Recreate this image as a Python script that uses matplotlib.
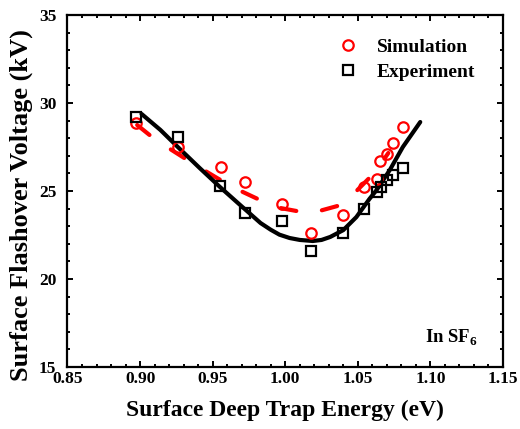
import matplotlib.pyplot as plt

# simulation points (red circles)
sim_x = [0.897, 0.926, 0.956, 0.972, 0.998, 1.018, 1.040, 1.054, 1.063, 1.065, 1.070, 1.074, 1.081]
sim_y = [28.85, 27.5, 26.36, 25.5, 24.26, 22.6, 23.64, 25.2, 25.7, 26.7, 27.1, 27.7, 28.65]

# experiment points (black squares)
exp_x = [0.897, 0.926, 0.955, 0.972, 0.998, 1.018, 1.040, 1.054, 1.063, 1.066, 1.070, 1.074, 1.081]
exp_y = [29.2, 28.07, 25.3, 23.75, 23.3, 21.6, 22.6, 24.0, 24.95, 25.2, 25.6, 25.9, 26.3]

# fit curves
fit_x = [0.901, 0.914, 0.926, 0.941, 0.955, 0.969, 0.983, 0.990, 0.996, 1.003, 1.010, 1.019,
         1.025, 1.031, 1.040, 1.049, 1.058, 1.063, 1.072, 1.081, 1.093]
fit_y = [29.38, 28.47, 27.5, 26.31, 25.23, 24.2, 23.18, 22.8, 22.52, 22.33, 22.22, 22.16,
         22.22, 22.39, 22.78, 23.52, 24.55, 25.06, 26.19, 27.5, 28.92]

sim_fit_x = [0.898, 0.910, 0.925, 0.938, 0.953, 0.965, 0.981, 0.993, 1.008, 1.021, 1.036,
             1.047, 1.062, 1.071]
sim_fit_y = [28.75, 27.95, 27.16, 26.48, 25.74, 25.17, 24.55, 24.09, 23.86, 23.81, 24.15,
             24.83, 26.08, 27.16]

plt.rcParams['font.family'] = ['Liberation Serif', 'DejaVu Serif']
plt.rcParams['font.weight'] = 'bold'
plt.rcParams['mathtext.fontset'] = 'custom'
plt.rcParams['mathtext.rm'] = 'Liberation Serif:bold'
plt.rcParams['mathtext.bf'] = 'Liberation Serif:bold'

fig = plt.figure(figsize=(5.2, 4.29), dpi=100)
ax = fig.add_axes([0.1298, 0.1445, 0.8375, 0.8205])

ln, = ax.plot(sim_fit_x, sim_fit_y, color='red', lw=3, dash_capstyle='round')
ln.set_dashes([3.8, 6.2])
ax.plot(fit_x, fit_y, color='black', lw=3, solid_joinstyle='round', solid_capstyle='round')
ax.plot(sim_x, sim_y, 'o', ms=7.5, mfc='none', mec='red', mew=1.6, label='Simulation')
ax.plot(exp_x, exp_y, 's', ms=6.5, mfc='none', mec='black', mew=1.6, label='Experiment')

ax.text(1.096, 16.36, r'In SF$_6$', fontsize=13.5, fontweight='bold', va='baseline')

ax.set_xlim(0.85, 1.15)
ax.set_ylim(15, 35)
ax.set_xticks([0.85, 0.90, 0.95, 1.00, 1.05, 1.10, 1.15])
ax.set_yticks([15, 20, 25, 30, 35])
ax.set_xticks([0.85 + 0.01 * i for i in range(31)], minor=True)
ax.set_yticks(list(range(15, 36)), minor=True)
ax.tick_params(which='both', direction='in', top=True, right=True, width=1.4, labelsize=12.5)
ax.tick_params(which='major', length=4.5)
ax.tick_params(which='minor', length=2.5)
ax.tick_params(axis='x', pad=3)
ax.tick_params(axis='y', pad=8)
for s in ax.spines.values():
    s.set_linewidth(1.6)

ax.set_xlabel('Surface Deep Trap Energy (eV)', fontsize=17, fontweight='bold')
ax.xaxis.set_label_coords(0.5, -0.093)
ax.set_ylabel('Surface Flashover Voltage (kV)', fontsize=19, fontweight='bold')
ax.yaxis.set_label_coords(-0.079, 0.46)

ax.legend(loc='upper left', frameon=False, fontsize=14, handletextpad=0.75,
          bbox_to_anchor=(0.570, 0.983), handlelength=1.5, labelspacing=0.36,
          borderpad=0.4)

fig.savefig('out.png', dpi=100)
